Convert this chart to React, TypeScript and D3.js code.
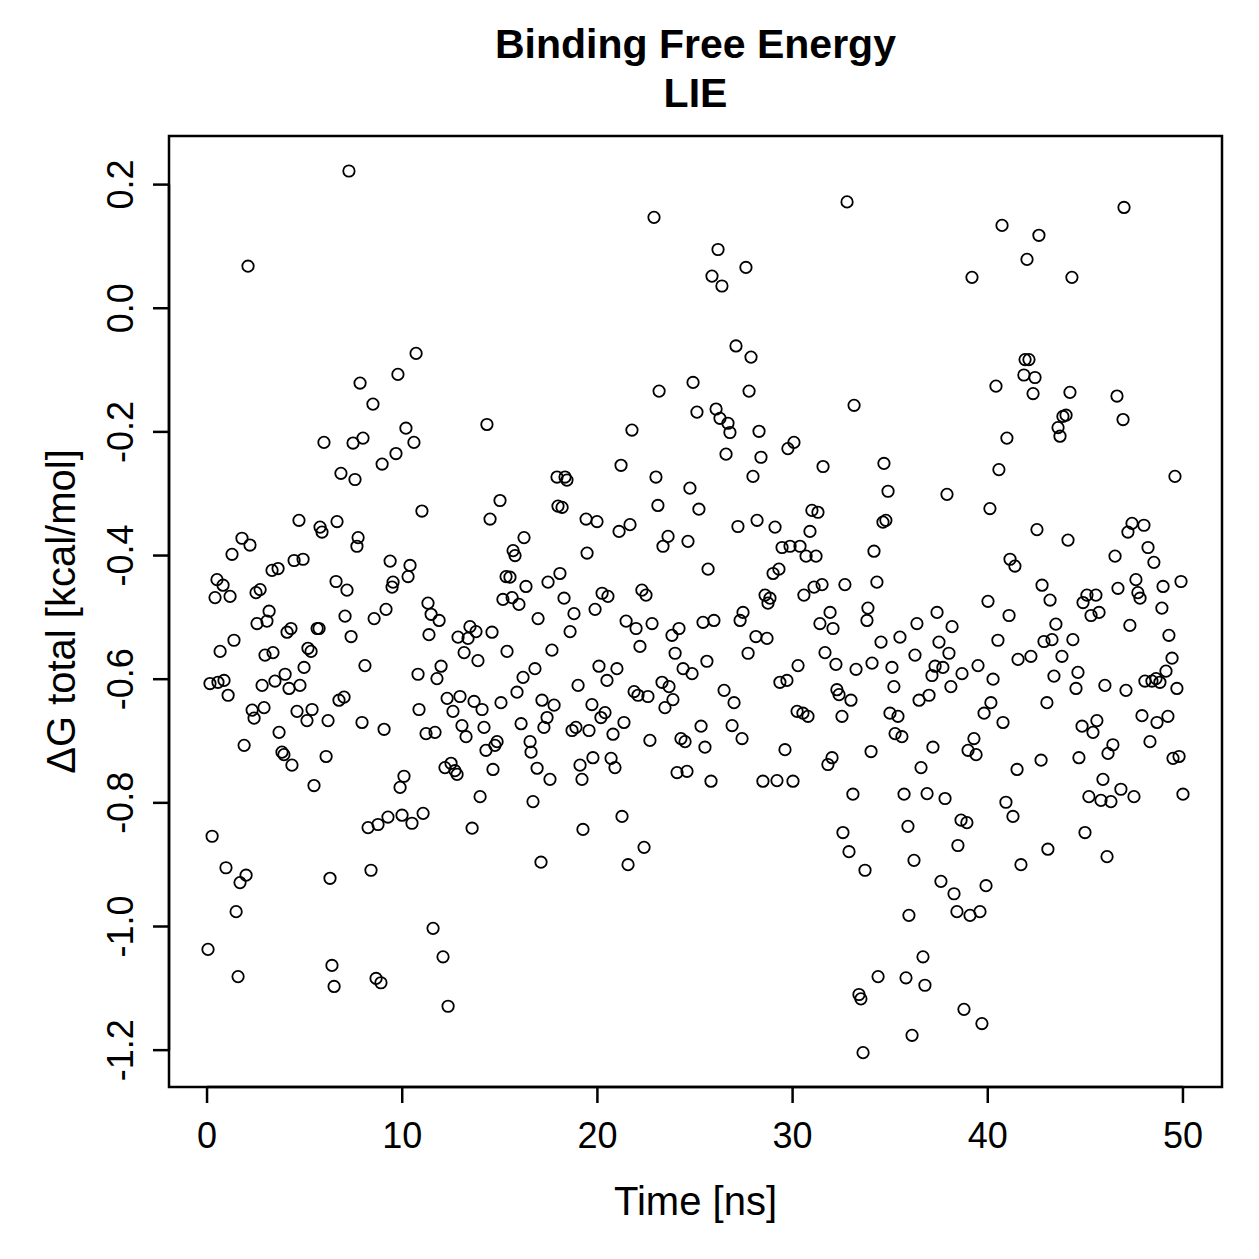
import * as d3 from 'd3';

// axis ticks
const timeTicks = [0, 10, 20, 30, 40, 50];
const energyTicks = [-1.2, -1.0, -0.8, -0.6, -0.4, -0.2, 0.0, 0.2];

// [time (ns), dG total (kcal/mol)]
const lieSamples: [number, number][] = [
  [0.05, -1.037], [0.15, -0.607], [0.26, -0.854], [0.41, -0.468], [0.51, -0.439], [0.56, -0.605], [0.67, -0.555], [0.82, -0.448], [0.87, -0.602], [0.97, -0.905],
  [1.08, -0.626], [1.18, -0.466], [1.28, -0.398], [1.38, -0.537], [1.49, -0.976], [1.59, -1.081], [1.69, -0.929], [1.79, -0.372], [1.9, -0.707], [2.0, -0.917],
  [2.1, 0.068], [2.2, -0.383], [2.31, -0.65], [2.41, -0.663], [2.51, -0.46], [2.56, -0.51], [2.72, -0.455], [2.82, -0.61], [2.92, -0.646], [2.97, -0.561],
  [3.07, -0.506], [3.18, -0.49], [3.33, -0.424], [3.38, -0.557], [3.48, -0.603], [3.64, -0.421], [3.69, -0.686], [3.84, -0.718], [3.94, -0.722], [4.0, -0.592],
  [4.1, -0.524], [4.2, -0.615], [4.3, -0.518], [4.35, -0.739], [4.46, -0.408], [4.61, -0.652], [4.71, -0.343], [4.76, -0.61], [4.92, -0.406], [4.97, -0.581],
  [5.12, -0.667], [5.17, -0.55], [5.33, -0.555], [5.38, -0.649], [5.48, -0.772], [5.64, -0.518], [5.74, -0.518], [5.79, -0.354], [5.89, -0.362], [5.99, -0.217],
  [6.1, -0.725], [6.2, -0.667], [6.3, -0.922], [6.4, -1.063], [6.51, -1.097], [6.61, -0.442], [6.66, -0.345], [6.76, -0.634], [6.86, -0.267], [7.02, -0.629],
  [7.07, -0.498], [7.17, -0.456], [7.27, 0.222], [7.38, -0.531], [7.48, -0.218], [7.58, -0.277], [7.68, -0.385], [7.74, -0.371], [7.84, -0.121], [7.94, -0.67],
  [7.99, -0.21], [8.09, -0.578], [8.25, -0.84], [8.4, -0.909], [8.5, -0.155], [8.56, -0.502], [8.66, -1.084], [8.76, -0.835], [8.91, -1.091], [8.97, -0.252],
  [9.07, -0.681], [9.17, -0.487], [9.27, -0.823], [9.38, -0.409], [9.48, -0.451], [9.53, -0.443], [9.68, -0.235], [9.78, -0.107], [9.89, -0.775], [9.99, -0.82],
  [10.09, -0.757], [10.19, -0.194], [10.3, -0.434], [10.4, -0.416], [10.5, -0.833], [10.6, -0.217], [10.71, -0.073], [10.81, -0.592], [10.86, -0.649], [11.01, -0.328],
  [11.07, -0.817], [11.22, -0.688], [11.32, -0.477], [11.37, -0.528], [11.48, -0.495], [11.58, -1.003], [11.68, -0.686], [11.78, -0.599], [11.89, -0.505], [11.99, -0.579],
  [12.09, -1.049], [12.19, -0.743], [12.3, -0.631], [12.35, -1.129], [12.5, -0.736], [12.6, -0.652], [12.7, -0.748], [12.81, -0.754], [12.86, -0.532], [12.96, -0.628],
  [13.06, -0.675], [13.17, -0.557], [13.27, -0.693], [13.37, -0.534], [13.47, -0.515], [13.58, -0.841], [13.68, -0.636], [13.78, -0.523], [13.88, -0.57], [13.99, -0.79],
  [14.09, -0.649], [14.19, -0.678], [14.29, -0.715], [14.34, -0.188], [14.5, -0.341], [14.6, -0.524], [14.65, -0.746], [14.75, -0.707], [14.86, -0.701], [15.01, -0.311],
  [15.06, -0.638], [15.16, -0.471], [15.32, -0.434], [15.37, -0.555], [15.52, -0.435], [15.63, -0.468], [15.68, -0.392], [15.78, -0.4], [15.88, -0.621], [15.98, -0.479],
  [16.09, -0.672], [16.19, -0.597], [16.24, -0.371], [16.34, -0.45], [16.55, -0.701], [16.6, -0.718], [16.7, -0.798], [16.8, -0.583], [16.91, -0.744], [16.96, -0.502],
  [17.11, -0.896], [17.16, -0.634], [17.26, -0.678], [17.42, -0.662], [17.47, -0.443], [17.57, -0.762], [17.67, -0.553], [17.78, -0.642], [17.93, -0.273], [17.98, -0.32],
  [18.08, -0.429], [18.19, -0.322], [18.29, -0.469], [18.34, -0.273], [18.44, -0.278], [18.6, -0.523], [18.7, -0.683], [18.8, -0.494], [18.9, -0.678], [19.01, -0.61],
  [19.11, -0.739], [19.21, -0.762], [19.26, -0.843], [19.42, -0.341], [19.47, -0.396], [19.57, -0.683], [19.72, -0.641], [19.77, -0.727], [19.88, -0.487], [19.98, -0.345],
  [20.08, -0.579], [20.18, -0.662], [20.24, -0.461], [20.39, -0.654], [20.49, -0.602], [20.54, -0.466], [20.7, -0.728], [20.8, -0.689], [20.9, -0.743], [21.0, -0.583],
  [21.11, -0.361], [21.21, -0.254], [21.26, -0.822], [21.36, -0.67], [21.47, -0.506], [21.57, -0.9], [21.67, -0.35], [21.77, -0.197], [21.88, -0.62], [21.98, -0.518],
  [22.08, -0.626], [22.18, -0.547], [22.28, -0.456], [22.39, -0.872], [22.49, -0.464], [22.59, -0.628], [22.69, -0.699], [22.8, -0.51], [22.9, 0.147], [23.0, -0.273],
  [23.1, -0.319], [23.16, -0.134], [23.31, -0.605], [23.36, -0.385], [23.46, -0.646], [23.62, -0.369], [23.67, -0.612], [23.82, -0.529], [23.87, -0.633], [23.98, -0.558],
  [24.08, -0.751], [24.18, -0.518], [24.28, -0.696], [24.39, -0.583], [24.49, -0.701], [24.59, -0.749], [24.64, -0.377], [24.74, -0.291], [24.85, -0.591], [24.9, -0.12],
  [25.1, -0.168], [25.2, -0.325], [25.31, -0.676], [25.41, -0.508], [25.51, -0.71], [25.61, -0.571], [25.67, -0.422], [25.82, -0.765], [25.87, 0.052], [25.97, -0.505],
  [26.08, -0.163], [26.18, 0.095], [26.28, -0.178], [26.38, 0.036], [26.49, -0.618], [26.59, -0.236], [26.69, -0.186], [26.79, -0.201], [26.9, -0.675], [27.0, -0.638],
  [27.1, -0.061], [27.2, -0.353], [27.31, -0.505], [27.41, -0.696], [27.46, -0.492], [27.61, 0.066], [27.72, -0.558], [27.77, -0.134], [27.87, -0.079], [27.97, -0.272],
  [28.12, -0.531], [28.18, -0.343], [28.28, -0.199], [28.38, -0.241], [28.48, -0.765], [28.59, -0.464], [28.69, -0.534], [28.74, -0.477], [28.84, -0.469], [29.0, -0.429],
  [29.1, -0.354], [29.2, -0.764], [29.3, -0.422], [29.35, -0.605], [29.46, -0.387], [29.61, -0.714], [29.71, -0.602], [29.76, -0.227], [29.87, -0.385], [30.02, -0.765],
  [30.07, -0.217], [30.23, -0.652], [30.28, -0.578], [30.38, -0.385], [30.53, -0.655], [30.58, -0.464], [30.69, -0.401], [30.79, -0.66], [30.89, -0.361], [30.99, -0.327],
  [31.1, -0.451], [31.2, -0.401], [31.3, -0.33], [31.4, -0.51], [31.51, -0.447], [31.56, -0.256], [31.66, -0.557], [31.81, -0.738], [31.92, -0.492], [32.02, -0.727],
  [32.07, -0.518], [32.22, -0.576], [32.27, -0.617], [32.38, -0.625], [32.53, -0.66], [32.58, -0.848], [32.68, -0.447], [32.79, 0.172], [32.89, -0.879], [32.99, -0.634],
  [33.09, -0.786], [33.15, -0.157], [33.25, -0.584], [33.4, -1.11], [33.5, -1.117], [33.61, -1.204], [33.71, -0.909], [33.81, -0.505], [33.86, -0.485], [34.02, -0.717],
  [34.07, -0.574], [34.17, -0.393], [34.32, -0.443], [34.38, -1.081], [34.53, -0.54], [34.63, -0.346], [34.68, -0.251], [34.78, -0.343], [34.89, -0.296], [34.99, -0.655],
  [35.09, -0.581], [35.19, -0.612], [35.25, -0.688], [35.4, -0.66], [35.5, -0.532], [35.6, -0.693], [35.71, -0.786], [35.81, -1.083], [35.91, -0.838], [35.96, -0.982],
  [36.12, -1.176], [36.22, -0.893], [36.27, -0.561], [36.37, -0.51], [36.48, -0.634], [36.58, -0.743], [36.68, -1.049], [36.78, -1.095], [36.89, -0.785], [36.99, -0.626],
  [37.14, -0.594], [37.19, -0.71], [37.3, -0.579], [37.4, -0.492], [37.5, -0.54], [37.6, -0.927], [37.7, -0.581], [37.81, -0.793], [37.91, -0.301], [38.01, -0.558],
  [38.11, -0.612], [38.17, -0.515], [38.27, -0.947], [38.42, -0.976], [38.47, -0.869], [38.63, -0.828], [38.68, -0.591], [38.78, -1.134], [38.93, -0.832], [38.99, -0.715],
  [39.09, -0.982], [39.19, 0.05], [39.29, -0.696], [39.4, -0.722], [39.5, -0.578], [39.6, -0.976], [39.7, -1.157], [39.81, -0.655], [39.91, -0.934], [40.01, -0.474],
  [40.11, -0.324], [40.16, -0.638], [40.27, -0.6], [40.42, -0.126], [40.52, -0.537], [40.57, -0.261], [40.73, 0.134], [40.78, -0.67], [40.93, -0.799], [40.98, -0.21],
  [41.09, -0.497], [41.14, -0.406], [41.29, -0.822], [41.39, -0.417], [41.5, -0.746], [41.55, -0.568], [41.7, -0.9], [41.85, -0.108], [41.91, -0.083], [42.01, 0.079],
  [42.11, -0.083], [42.21, -0.563], [42.32, -0.138], [42.42, -0.112], [42.52, -0.358], [42.62, 0.118], [42.73, -0.731], [42.78, -0.448], [42.88, -0.539], [43.03, -0.638],
  [43.08, -0.875], [43.19, -0.472], [43.29, -0.536], [43.39, -0.595], [43.49, -0.511], [43.6, -0.193], [43.7, -0.207], [43.8, -0.563], [43.85, -0.175], [44.01, -0.173],
  [44.11, -0.375], [44.21, -0.136], [44.31, 0.05], [44.36, -0.536], [44.52, -0.615], [44.62, -0.589], [44.67, -0.727], [44.83, -0.676], [44.88, -0.476], [44.98, -0.848],
  [45.08, -0.464], [45.18, -0.79], [45.29, -0.497], [45.39, -0.686], [45.54, -0.464], [45.59, -0.667], [45.7, -0.492], [45.8, -0.796], [45.9, -0.762], [46.0, -0.61],
  [46.11, -0.887], [46.16, -0.72], [46.31, -0.798], [46.41, -0.706], [46.52, -0.401], [46.62, -0.142], [46.67, -0.453], [46.82, -0.778], [46.93, -0.18], [46.98, 0.163],
  [47.08, -0.618], [47.18, -0.362], [47.28, -0.513], [47.39, -0.348], [47.49, -0.79], [47.59, -0.439], [47.69, -0.46], [47.8, -0.469], [47.9, -0.659], [48.0, -0.351],
  [48.05, -0.603], [48.21, -0.387], [48.31, -0.701], [48.41, -0.603], [48.51, -0.411], [48.62, -0.599], [48.67, -0.67], [48.82, -0.605], [48.92, -0.485], [48.98, -0.45],
  [49.13, -0.587], [49.23, -0.66], [49.28, -0.529], [49.44, -0.566], [49.49, -0.728], [49.59, -0.272], [49.69, -0.615], [49.8, -0.725], [49.9, -0.442], [50.0, -0.786],
];

const W = 1259;
const H = 1259;
const plot = {left: 169, right: 1222, top: 136, bottom: 1087};
const font = '"Liberation Sans", Arial, Helvetica, sans-serif';

// R-style labels: hyphen minus, one decimal
const fmtEnergy = (v: number) => d3.format('.1f')(v).replace('\u2212', '-');

export default function App() {
  // R pads the data range by 4% on each side
  const x = d3.scaleLinear().domain([-2, 52]).range([168, plot.right]);
  const y = d3.scaleLinear().domain([-1.2596, 0.2786]).range([plot.bottom, plot.top]);

  const tick = 16;
  const cx = (plot.left + plot.right) / 2;
  const cy = (plot.top + plot.bottom) / 2;

  return (
    <svg
      width={W}
      height={H}
      viewBox={`0 0 ${W} ${H}`}
      style={{position: 'absolute', left: 0, top: 0, background: '#fff'}}
      fontFamily={font}
    >
      <rect x={0} y={0} width={W} height={H} fill="#fff" />

      {/* title */}
      <text x={cx} y={58} textAnchor="middle" fontSize={41} fontWeight="bold" fill="#000">
        Binding Free Energy
      </text>
      <text x={cx} y={107} textAnchor="middle" fontSize={41} fontWeight="bold" fill="#000">
        LIE
      </text>

      {/* points */}
      <g fill="none" stroke="#000" strokeWidth={1.8}>
        {lieSamples.map(([t, v], i) => (
          <circle key={i} cx={x(t)} cy={y(v)} r={5.7} />
        ))}
      </g>

      {/* box */}
      <rect
        x={plot.left}
        y={plot.top}
        width={plot.right - plot.left}
        height={plot.bottom - plot.top}
        fill="none"
        stroke="#000"
        strokeWidth={2.5}
      />

      {/* x axis */}
      <g stroke="#000" strokeWidth={2.5}>
        <line x1={x(timeTicks[0])} x2={x(timeTicks[timeTicks.length - 1])} y1={plot.bottom} y2={plot.bottom} />
        {timeTicks.map((t) => (
          <line key={t} x1={x(t)} x2={x(t)} y1={plot.bottom} y2={plot.bottom + tick} />
        ))}
      </g>
      {timeTicks.map((t) => (
        <text key={t} x={x(t)} y={1148} textAnchor="middle" fontSize={36} fill="#000">
          {t}
        </text>
      ))}
      <text x={cx} y={1215} textAnchor="middle" fontSize={40} fill="#000">
        Time [ns]
      </text>

      {/* y axis */}
      <g stroke="#000" strokeWidth={2.5}>
        <line x1={plot.left} x2={plot.left} y1={y(energyTicks[0])} y2={y(energyTicks[energyTicks.length - 1])} />
        {energyTicks.map((v) => (
          <line key={v} x1={plot.left} x2={plot.left - tick} y1={y(v)} y2={y(v)} />
        ))}
      </g>
      {energyTicks.map((v) => (
        <text
          key={v}
          transform={`translate(133,${y(v)}) rotate(-90)`}
          textAnchor="middle"
          fontSize={36}
          fill="#000"
        >
          {fmtEnergy(v)}
        </text>
      ))}
      <text transform={`translate(75,${cy}) rotate(-90)`} textAnchor="middle" fontSize={40} fill="#000">
        ΔG total [kcal/mol]
      </text>
    </svg>
  );
}
